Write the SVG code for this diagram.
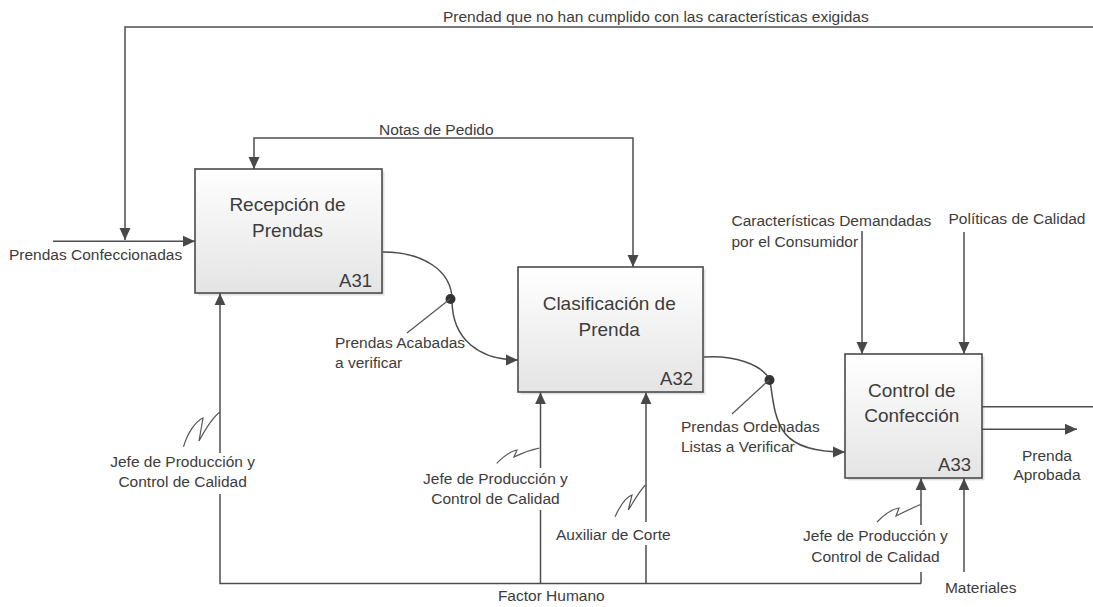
<svg xmlns="http://www.w3.org/2000/svg" width="1093" height="607" viewBox="0 0 1093 607">
<style>
.ln{fill:none;stroke:#4d4d4d;stroke-width:1.5}
.sq{fill:none;stroke:#555;stroke-width:1.2}
.box{fill:url(#g);stroke:#4a4a4a;stroke-width:1.6}
.sh{fill:#000;opacity:0.12}
text{font-family:"Liberation Sans",Arial,sans-serif;fill:#3c3c3c}
.lb{font-size:15.5px}
.tt{font-size:19px;text-anchor:middle}
.id{font-size:18.5px;text-anchor:end}
.m{text-anchor:middle}
</style>
<defs>
<linearGradient id="g" x1="0" y1="0" x2="0" y2="1">
<stop offset="0" stop-color="#ffffff"/>
<stop offset="1" stop-color="#e4e4e4"/>
</linearGradient>
<marker id="arr" viewBox="0 0 12 12" refX="12" refY="6" markerWidth="12" markerHeight="12" markerUnits="userSpaceOnUse" orient="auto">
<path d="M0,0.5 L12,6 L0,11.5 z" fill="#484848"/>
</marker>
</defs>
<rect width="1093" height="607" fill="#ffffff"/>

<g id="node-A31">
<rect class="sh" x="197.5" y="171.5" width="187" height="124"/>
<rect class="box" x="195" y="169" width="187" height="124"/>
<text class="tt" x="287.5" y="211">Recepción de</text>
<text class="tt" x="287.5" y="237.3">Prendas</text>
<text class="id" x="372" y="286.7">A31</text>
</g>

<g id="node-A32">
<rect class="sh" x="520.5" y="269.5" width="185" height="125"/>
<rect class="box" x="518" y="267" width="185" height="125"/>
<text class="tt" x="609.2" y="310">Clasificación de</text>
<text class="tt" x="609.2" y="336">Prenda</text>
<text class="id" x="693" y="385">A32</text>
</g>

<g id="node-A33">
<rect class="sh" x="847.5" y="356.5" width="137" height="124"/>
<rect class="box" x="845" y="354" width="137" height="124"/>
<text class="tt" x="911.8" y="396.7">Control de</text>
<text class="tt" x="911.8" y="421.7">Confección</text>
<text class="id" x="971" y="470.7">A33</text>
</g>

<g id="connectors">
<path class="ln" d="M53,241.3 H195" marker-end="url(#arr)"/>
<path class="ln" d="M1093,27 H125 V240" marker-end="url(#arr)"/>
<path class="ln" d="M443,138 H254 V169" marker-end="url(#arr)"/>
<path class="ln" d="M443,138 H633 V267" marker-end="url(#arr)"/>
<path class="ln" d="M383,252 C422,252 452,270 452,300 C452,340 480,360 518,360" marker-end="url(#arr)"/>
<circle cx="450.5" cy="299" r="5" fill="#333"/>
<path class="sq" d="M450,299 L407,333"/>
<path class="ln" d="M704,357 C733,355 762,364 770,380 C776,425 778,452 845,452" marker-end="url(#arr)"/>
<circle cx="769.5" cy="380" r="5" fill="#333"/>
<path class="sq" d="M769,380 L732,414"/>
<path class="ln" d="M862,231 V354" marker-end="url(#arr)"/>
<path class="ln" d="M964,232 V354" marker-end="url(#arr)"/>
<path class="ln" d="M982,406.7 H1093"/>
<path class="ln" d="M982,429.3 H1077" marker-end="url(#arr)"/>
<path class="ln" d="M921,583.5 H220 V494"/>
<path class="ln" d="M220,453 V293.3" marker-end="url(#arr)"/>
<path class="ln" d="M540.5,583.5 V510"/>
<path class="ln" d="M540.5,468 V392.3" marker-end="url(#arr)"/>
<path class="ln" d="M646,583.5 V545"/>
<path class="ln" d="M646,522 V392.3" marker-end="url(#arr)"/>
<path class="ln" d="M921,583.5 V572"/>
<path class="ln" d="M921,525 V478.3" marker-end="url(#arr)"/>
<path class="ln" d="M964,572 V478.3" marker-end="url(#arr)"/>
<path class="sq" d="M183.5,446.7 C188,432 196,421 203,418 L199,441 C206,428 213,417 220,412"/>
<path class="sq" d="M496.7,463.3 C503,457 510,451 517,450 L514,457 C522,453 530,450 539.5,448"/>
<path class="sq" d="M615,516.7 C620,506 626,497 632,495 L628.3,510 C634,501 640,490 645.5,485"/>
<path class="sq" d="M877,522 C884,515 892,509 899,508 L896,516 C904,512 912,508 920.5,504.5"/>
</g>

<g id="labels">
<text class="lb" x="443" y="21.5">Prendad que no han cumplido con las características exigidas</text>
<text class="lb" x="379" y="135">Notas de Pedido</text>
<text class="lb" x="9" y="260">Prendas Confeccionadas</text>
<text class="lb" x="335" y="348.3">Prendas Acabadas</text>
<text class="lb" x="335" y="368.3">a verificar</text>
<text class="lb" x="681" y="431.7">Prendas Ordenadas</text>
<text class="lb" x="681" y="451.7">Listas a Verificar</text>
<text class="lb" x="731.5" y="225.5">Características Demandadas</text>
<text class="lb" x="731.5" y="246.5">por el Consumidor</text>
<text class="lb" x="948.5" y="223.5">Políticas de Calidad</text>
<text class="lb m" x="1047" y="460.7">Prenda</text>
<text class="lb m" x="1047" y="479.5">Aprobada</text>
<text class="lb m" x="182.6" y="466.7">Jefe de Producción y</text>
<text class="lb m" x="182.6" y="487.3">Control de Calidad</text>
<text class="lb m" x="495.5" y="484.3">Jefe de Producción y</text>
<text class="lb m" x="495.5" y="504.3">Control de Calidad</text>
<text class="lb m" x="613.3" y="540">Auxiliar de Corte</text>
<text class="lb m" x="875.5" y="540.5">Jefe de Producción y</text>
<text class="lb m" x="875.5" y="561.5">Control de Calidad</text>
<text class="lb m" x="980.7" y="593.3">Materiales</text>
<text class="lb m" x="551.3" y="600.5">Factor Humano</text>
</g>
</svg>
